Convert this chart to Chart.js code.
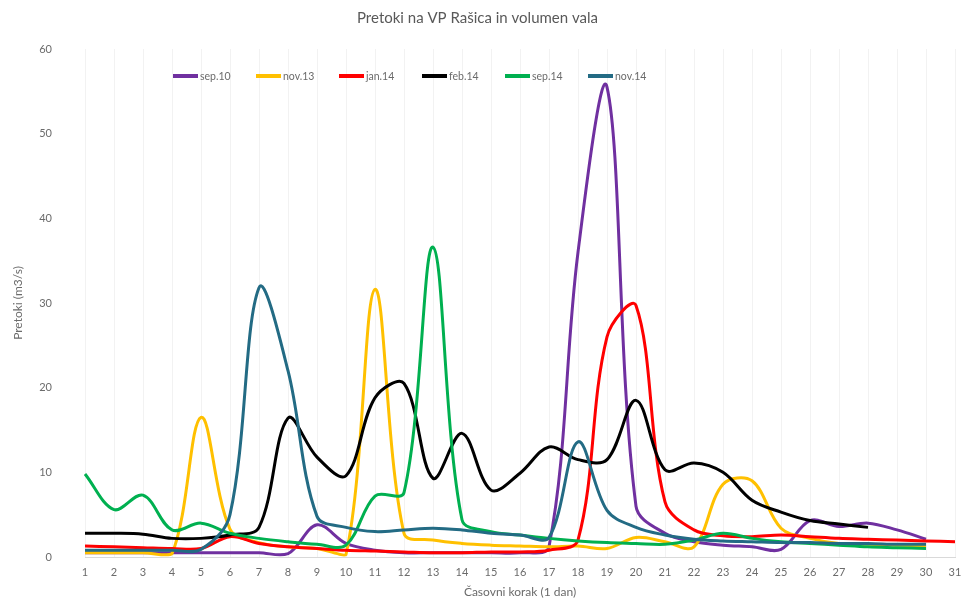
<!DOCTYPE html>
<html>
<head>
<meta charset="utf-8">
<script src="https://cdn.jsdelivr.net/npm/chart.js@4/dist/chart.umd.min.js"></script>
<style>
  body { margin: 0; background: #fff; }
  #wrap { position: relative; width: 967px; height: 599px; }
  #legend { position: absolute; left: 173px; top: 70px; display: flex; font-family: Lato, "Open Sans", sans-serif; font-size: 10.5px; color: #6b6b6b; }
  #legend .item { display: flex; align-items: center; width: 83px; }
  #legend .swatch { width: 25px; height: 3.5px; margin-right: 2px; }
</style>
</head>
<body>
<div id="wrap">
  <canvas id="chart"></canvas>
  <div id="legend"></div>
</div>
<script>
const days = ['1','2','3','4','5','6','7','8','9','10','11','12','13','14','15','16','17','18','19','20','21','22','23','24','25','26','27','28','29','30','31'];

const sep10 = [0.5,0.5,0.5,0.5,0.5,0.5,0.5,0.4,3.8,1.6,0.8,0.5,0.5,0.5,0.5,0.5,1.2,36,55.5,6,2.8,1.8,1.4,1.2,0.9,4.3,3.6,4.0,3.2,2.1];
const nov13 = [0.5,0.5,0.5,0.4,16.5,3.3,1.7,1.2,1.0,0.3,31.6,2.8,2.0,1.6,1.4,1.3,1.2,1.3,1.0,2.3,1.8,1.2,8.6,9.0,3.4,2.2,1.6,1.5,1.4,1.3];
const jan14 = [1.3,1.2,1.1,1.0,1.0,2.4,1.6,1.2,1.0,0.8,0.7,0.6,0.5,0.5,0.6,0.6,0.8,2.0,26,29.7,6.5,3.2,2.5,2.4,2.6,2.4,2.2,2.1,2.0,1.9,1.8];
const feb14 = [2.8,2.8,2.7,2.2,2.2,2.6,3.5,16.4,11.8,9.6,18.8,20.5,9.3,14.6,7.9,9.9,13.0,11.5,11.5,18.5,10.3,11.1,10.0,6.7,5.3,4.3,3.9,3.5];
const sep14 = [9.8,5.6,7.3,3.2,4.0,2.8,2.2,1.8,1.5,1.4,7.2,7.6,36.6,4.4,3.0,2.6,2.2,1.9,1.7,1.6,1.5,2.0,2.8,2.2,1.8,1.6,1.4,1.2,1.1,1.0];
const nov14 = [0.8,0.8,0.8,0.8,0.9,5.0,31.8,22.0,4.8,3.5,3.0,3.2,3.4,3.2,2.8,2.6,2.3,13.6,5.5,3.5,2.6,2.1,1.9,1.8,1.7,1.7,1.6,1.6,1.5,1.5];

const seriesNames = ['sep.10','nov.13','jan.14','feb.14','sep.14','nov.14'];
const seriesData = [sep10, nov13, jan14, feb14, sep14, nov14];
const seriesColors = ['#7030a0','#ffc000','#ff0000','#000000','#00b050','#236b84'];

const grey = '#6b6b6b';
const fontFam = 'Lato, "Open Sans", sans-serif';

const datasets = seriesNames.map((name, i) => ({
    label: name,
    data: seriesData[i],
    borderColor: seriesColors[i],
    backgroundColor: seriesColors[i],
    borderWidth: 3,
    pointRadius: 0,
    tension: 0.35,
    fill: false,
    order: seriesNames.length - i
}));

// legend sits over the plot like in the original, so build it in html
const legendEl = document.getElementById('legend');
seriesNames.forEach((name, i) => {
    const item = document.createElement('div');
    item.className = 'item';
    item.innerHTML = '<span class="swatch" style="background:' + seriesColors[i] + '"></span><span>' + name + '</span>';
    legendEl.appendChild(item);
});

new Chart(document.getElementById('chart').getContext('2d'), {
    type: 'line',
    data: { labels: days, datasets: datasets },
    options: {
        responsive: true,
        maintainAspectRatio: false,
        animation: false,
        layout: { padding: { left: 0, right: 12, top: 0, bottom: 0 } },
        plugins: {
            legend: { display: false },
            tooltip: { enabled: false },
            title: {
                display: true,
                text: 'Pretoki na VP Rašica in volumen vala',
                color: '#595959',
                font: { family: fontFam, size: 15, weight: 'normal' },
                padding: { top: 9, bottom: 22 }
            }
        },
        scales: {
            x: {
                offset: false,
                grid: { color: 'rgba(0,0,0,0.05)', drawTicks: false },
                border: { color: '#d9d9d9' },
                ticks: { color: grey, font: { family: fontFam, size: 11 }, autoSkip: false, maxRotation: 0, padding: 9 },
                title: { display: true, text: 'Časovni korak (1 dan)', color: grey, font: { family: fontFam, size: 12 }, padding: { top: 2, bottom: 0 } },
                afterFit: s => { s.height = 42; s.paddingRight = 0; }
            },
            y: {
                min: 0,
                max: 60,
                grid: { display: false },
                border: { display: false },
                ticks: { stepSize: 10, color: grey, font: { family: fontFam, size: 11 }, padding: 25 },
                title: { display: true, text: 'Pretoki (m3/s)', color: grey, font: { family: fontFam, size: 12 }, padding: { top: 11, bottom: 0 } },
                afterFit: s => { s.width = 85; }
            }
        }
    }
});
</script>
</body>
</html>
